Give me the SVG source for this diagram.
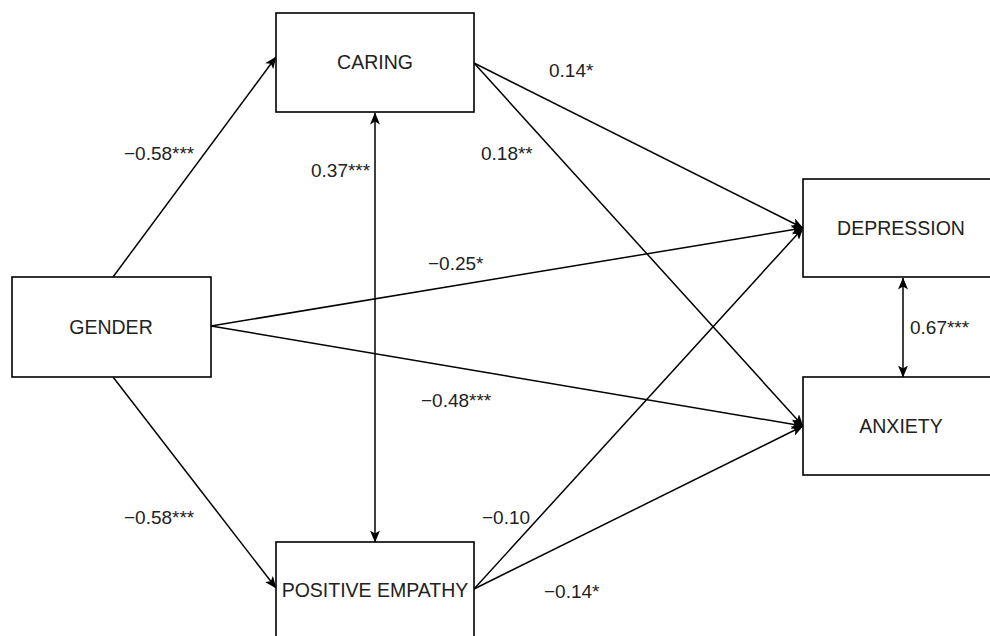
<svg xmlns="http://www.w3.org/2000/svg" width="990" height="636" viewBox="0 0 990 636">
<defs>
<style>
.box{fill:#fff;stroke:#000;stroke-width:1.6}
.lbl{font-family:"Liberation Sans",Arial,sans-serif;font-size:19.5px;fill:#222;text-anchor:middle}
.el{font-family:"Liberation Sans",Arial,sans-serif;font-size:19px;fill:#222}
.edge{fill:none;stroke:#000;stroke-width:1.5}
</style>
<marker id="ah" viewBox="0 0 12 10" refX="11.5" refY="5" markerWidth="12" markerHeight="10" markerUnits="userSpaceOnUse" orient="auto-start-reverse">
<path d="M0,0 L12,5 L0,10 L3,5 z" fill="#000"/>
</marker>
</defs>
<rect width="990" height="636" fill="#fff"/>
<g id="connectors">
<line class="edge" x1="113" y1="277" x2="276" y2="57" marker-end="url(#ah)"/>
<line class="edge" x1="113" y1="377" x2="276" y2="588" marker-end="url(#ah)"/>
<line class="edge" x1="211" y1="326" x2="803" y2="228" marker-end="url(#ah)"/>
<line class="edge" x1="211" y1="326" x2="803" y2="426" marker-end="url(#ah)"/>
<line class="edge" x1="474" y1="63" x2="803" y2="228" marker-end="url(#ah)"/>
<line class="edge" x1="474" y1="63" x2="803" y2="426" marker-end="url(#ah)"/>
<line class="edge" x1="474" y1="589" x2="803" y2="228" marker-end="url(#ah)"/>
<line class="edge" x1="474" y1="589" x2="803" y2="426" marker-end="url(#ah)"/>
<line class="edge" x1="375" y1="113" x2="375" y2="542" marker-start="url(#ah)" marker-end="url(#ah)"/>
<line class="edge" x1="903" y1="278" x2="903" y2="377" marker-start="url(#ah)" marker-end="url(#ah)"/>
</g>
<g id="caring"><rect class="box" x="276" y="13" width="198" height="99"/><text class="lbl" x="375" y="69">CARING</text></g>
<g id="gender"><rect class="box" x="12" y="277" width="199" height="100"/><text class="lbl" x="111" y="334">GENDER</text></g>
<g id="depression"><rect class="box" x="803" y="179" width="195" height="98"/><text class="lbl" x="901" y="235">DEPRESSION</text></g>
<g id="anxiety"><rect class="box" x="803" y="377" width="195" height="98"/><text class="lbl" x="901" y="433">ANXIETY</text></g>
<g id="positive-empathy"><rect class="box" x="276" y="542" width="198" height="110"/><text class="lbl" x="375" y="597">POSITIVE EMPATHY</text></g>
<g id="edge-labels">
<text class="el" x="124" y="160">−0.58***</text>
<text class="el" x="124" y="524">−0.58***</text>
<text class="el" x="311" y="177">0.37***</text>
<text class="el" x="549" y="77">0.14*</text>
<text class="el" x="481" y="160">0.18**</text>
<text class="el" x="428" y="270">−0.25*</text>
<text class="el" x="421" y="407">−0.48***</text>
<text class="el" x="910" y="334">0.67***</text>
<text class="el" x="482" y="524">−0.10</text>
<text class="el" x="544" y="598">−0.14*</text>
</g>
</svg>
